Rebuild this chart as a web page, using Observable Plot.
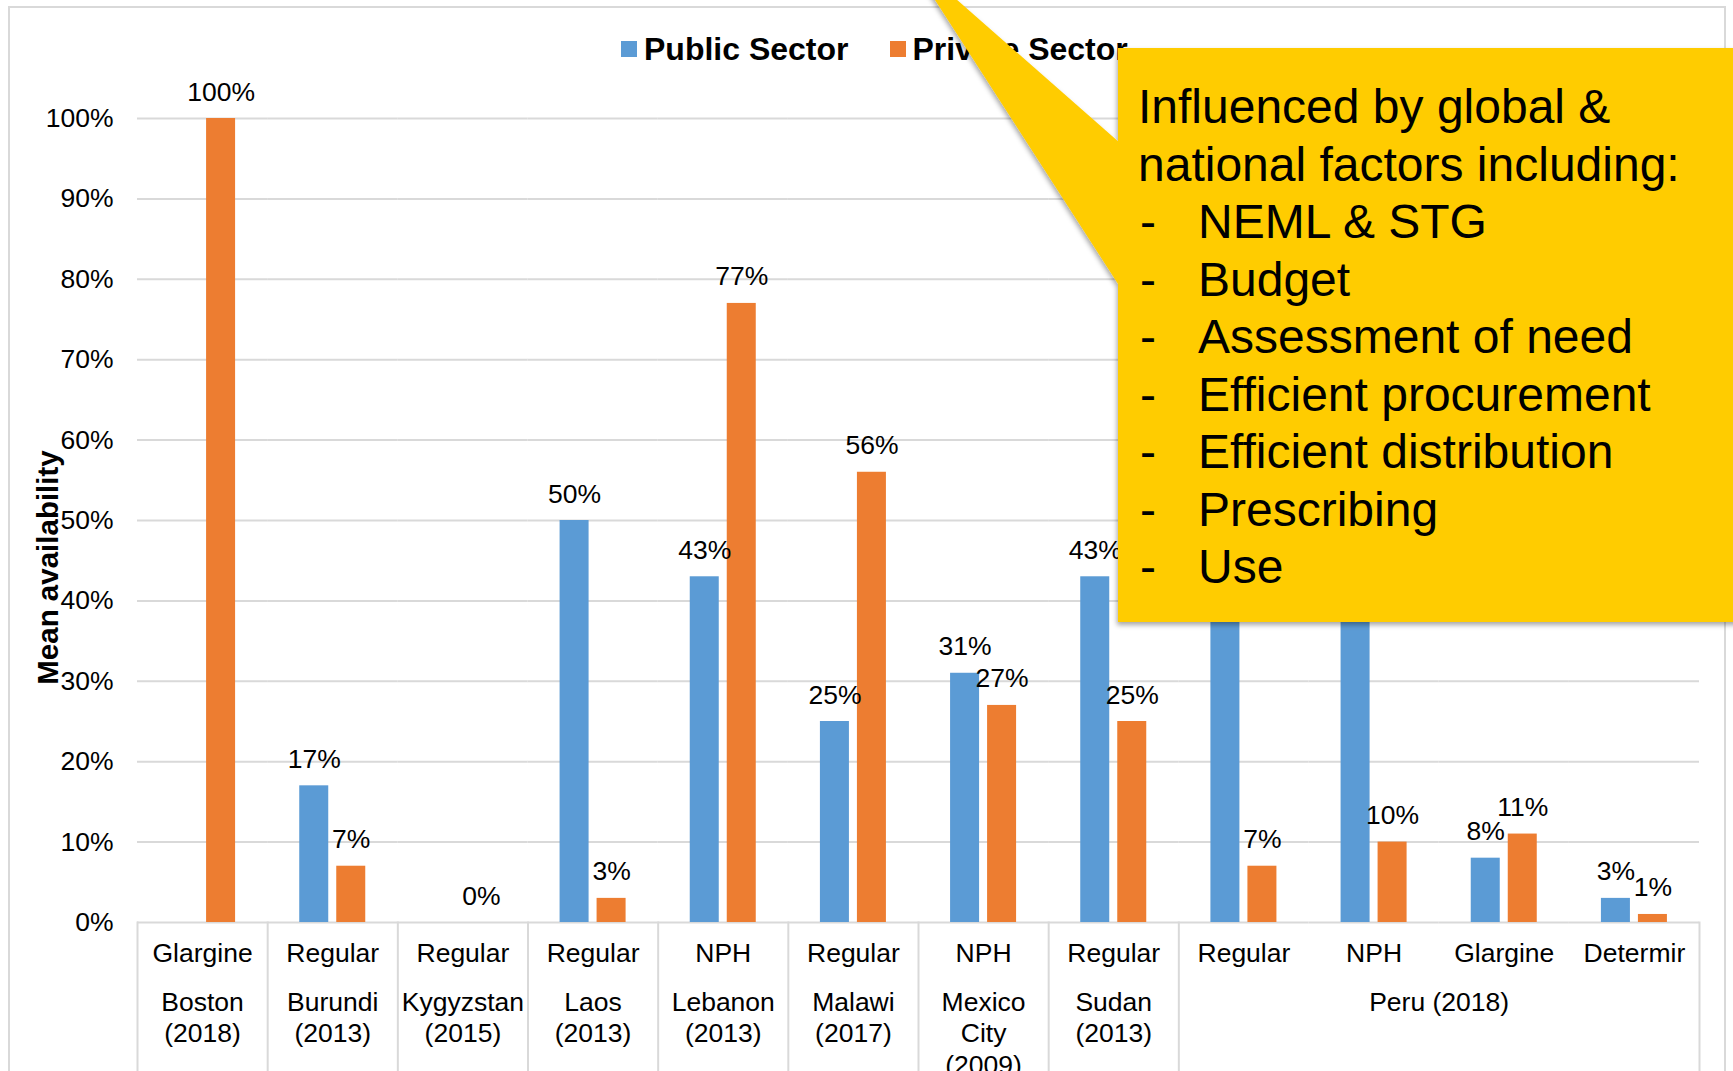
<!DOCTYPE html>
<html>
<head>
<meta charset="utf-8">
<script src="https://cdn.jsdelivr.net/npm/d3@7"></script>
<script src="https://cdn.jsdelivr.net/npm/@observablehq/plot@0.6"></script>
<style>
  html, body { margin: 0; padding: 0; background: #fff; }
  #wrap { position: relative; width: 1733px; height: 1071px; overflow: hidden; font-family: "Liberation Sans", Arial, sans-serif; }
  #border { position: absolute; left: 8px; top: 6px; width: 1718px; height: 1200px; border: 2px solid #d9d9d9; box-sizing: border-box; }
  #chart { position: absolute; left: 0; top: 0; }
  #legend { position: absolute; left: 621px; top: 33px; display: flex; align-items: center; font-weight: bold; font-size: 32px; line-height: 32px; color: #000; white-space: nowrap; }
  #legend .sw { display: inline-block; width: 16px; height: 16px; }
  #callout { position: absolute; left: 0; top: 0; pointer-events: none; }
</style>
</head>
<body>
<div id="wrap">
  <div id="border"></div>
  <div id="chart"></div>
  <div id="legend"></div>
  <svg id="callout" width="1733" height="1071"></svg>
</div>
<script>
// ---------- data ----------
const categoryIds = ["boston", "burundi", "kyrgyzstan", "laos", "lebanon", "malawi", "mexico", "sudan",
                     "peruRegular", "peruNPH", "peruGlargine", "peruDetermir"];
const insulinTypes = ["Glargine", "Regular", "Regular", "Regular", "NPH", "Regular", "NPH", "Regular",
                      "Regular", "NPH", "Glargine", "Determir"];
const locationLabels = ["Boston\n(2018)", "Burundi\n(2013)", "Kygyzstan\n(2015)", "Laos\n(2013)",
                        "Lebanon\n(2013)", "Malawi\n(2017)", "Mexico\nCity\n(2009)", "Sudan\n(2013)",
                        "Peru (2018)", "Peru (2018)", "Peru (2018)", "Peru (2018)"];
const sectors = ["Public Sector", "Private Sector"];
const sectorColors = ["#5B9BD5", "#ED7D31"];
// null = no data for that sector
const publicSector  = [null, 0.17, null, 0.50, 0.43, 0.25, 0.31, 0.43, 0.71, 0.62, 0.08, 0.03];
const privateSector = [1.00, 0.07, 0.00, 0.03, 0.77, 0.56, 0.27, 0.25, 0.07, 0.10, 0.11, 0.01];
const yTicks = [0, 0.1, 0.2, 0.3, 0.4, 0.5, 0.6, 0.7, 0.8, 0.9, 1.0];
const yTitle = "Mean availability";
const calloutLines = ["Influenced by global &", "national factors including:"];
const calloutBullets = ["NEML & STG", "Budget", "Assessment of need", "Efficient procurement",
                        "Efficient distribution", "Prescribing", "Use"];

// ---------- layout ----------
const W = 1733, H = 1071;
const M = {top: 118, right: 34, bottom: 149, left: 137};
const plotH = H - M.top - M.bottom;
const FONT = "'Liberation Sans', Arial, sans-serif";
const grid = "#d9d9d9";

const rows = [];
categoryIds.forEach((id, i) => {
  [publicSector[i], privateSector[i]].forEach((v, j) => {
    if (v != null) rows.push({id, sector: sectors[j], value: v});
  });
});

// group spans for the second axis level
const groups = [];
locationLabels.forEach((lab, i) => {
  const g = groups[groups.length - 1];
  if (g && g.label === lab) g.ids.push(categoryIds[i]);
  else groups.push({label: lab, ids: [categoryIds[i]]});
});
const oddGroups = groups.filter(g => g.ids.length % 2 === 1);
const evenGroups = groups.filter(g => g.ids.length % 2 === 0);
const pct = d3.format(".0%");

const sepStyle = {stroke: grid, strokeWidth: 2, insetTop: plotH, insetBottom: -M.bottom};

const chart = Plot.plot({
  width: W, height: H,
  marginTop: M.top, marginRight: M.right, marginBottom: M.bottom, marginLeft: M.left,
  style: {fontFamily: FONT, fontSize: "26.5px", color: "#000", background: "none", overflow: "visible"},
  fx: {domain: categoryIds, padding: 0, round: false, axis: null, label: null},
  x: {domain: sectors, paddingInner: 0.2162, paddingOuter: 0.867, round: false, axis: null, label: null},
  y: {domain: [0, 1], axis: "left", ticks: yTicks, tickFormat: ".0%", tickSize: 0, tickPadding: 24, label: null},
  color: {domain: sectors, range: sectorColors},
  marks: [
    Plot.ruleY(yTicks, {stroke: grid, strokeWidth: 2}),
    ...groups.map(g => Plot.frame({fx: g.ids[0], anchor: "left", ...sepStyle})),
    Plot.frame({fx: categoryIds[categoryIds.length - 1], anchor: "right", ...sepStyle}),
    Plot.barY(rows, {fx: "id", x: "sector", y: "value", fill: "sector"}),
    Plot.text(rows, {fx: "id", x: "sector", y: "value", text: d => pct(d.value),
                     lineAnchor: "bottom", dy: -18, fill: "#000"}),
    Plot.text(categoryIds, {fx: d => d, text: (d, i) => insulinTypes[i],
                            frameAnchor: "bottom", lineAnchor: "bottom", dy: 39, fill: "#000"}),
    Plot.text(oddGroups, {fx: g => g.ids[(g.ids.length - 1) / 2], text: "label",
                          frameAnchor: "bottom", lineAnchor: "top", lineHeight: 1.2, dy: 65.5, fill: "#000"}),
    Plot.text(evenGroups, {fx: g => g.ids[g.ids.length / 2 - 1], text: "label",
                           frameAnchor: "bottom-right", textAnchor: "middle", lineAnchor: "top",
                           lineHeight: 1.2, dy: 65.5, fill: "#000"}),
    Plot.text([yTitle], {fx: () => categoryIds[0], frameAnchor: "left", rotate: -90, textAnchor: "middle",
                         lineAnchor: "bottom", dx: -80, dy: 47, fontWeight: "bold", fontSize: 29.5, fill: "#000"})
  ]
});
document.getElementById("chart").appendChild(chart);

// ---------- legend ----------
const legend = d3.select("#legend");
sectors.forEach((s, i) => {
  legend.append("span").attr("class", "sw").style("background", sectorColors[i])
    .style("margin-left", i === 0 ? "0px" : "41px");
  legend.append("span").style("margin-left", "7px").text(s);
});

// ---------- callout annotation ----------
const svg = d3.select("#callout");
const defs = svg.append("defs");
const f = defs.append("filter").attr("id", "sh").attr("x", "-20%").attr("y", "-20%").attr("width", "140%").attr("height", "140%");
f.append("feDropShadow").attr("dx", -1).attr("dy", 3).attr("stdDeviation", 2.5)
  .attr("flood-color", "#000").attr("flood-opacity", 0.35);
const shape = svg.append("g").attr("filter", "url(#sh)").attr("fill", "#FFCC00");
shape.append("polygon").attr("points", "906,-45 1120,143 1120,287");
shape.append("rect").attr("x", 1118).attr("y", 48).attr("width", 700).attr("height", 574);
const tg = svg.append("g").attr("font-family", FONT).attr("font-size", 48).attr("fill", "#000");
const lineStep = 57.5, firstBase = 123;
calloutLines.forEach((t, i) => tg.append("text").attr("x", 1138).attr("y", firstBase + i * lineStep).text(t));
calloutBullets.forEach((t, i) => {
  const y = firstBase + (i + calloutLines.length) * lineStep;
  tg.append("text").attr("x", 1140).attr("y", y).text("-");
  tg.append("text").attr("x", 1198).attr("y", y).text(t);
});
</script>
</body>
</html>
